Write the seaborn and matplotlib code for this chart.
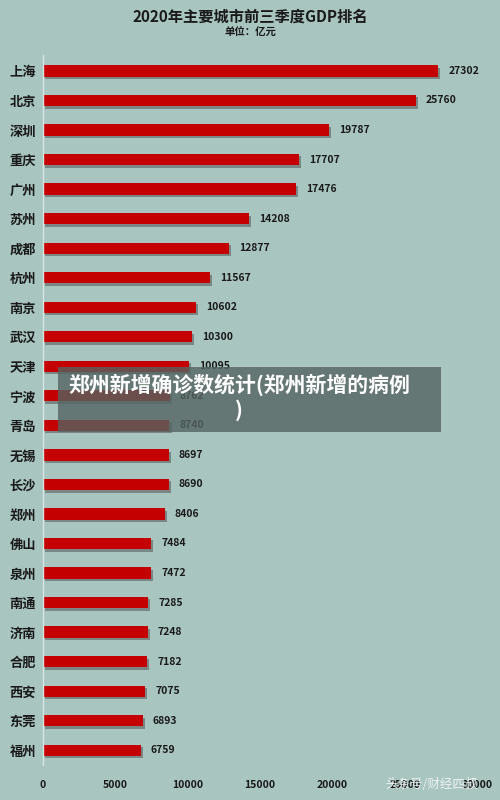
import matplotlib
matplotlib.use("Agg")
import matplotlib.pyplot as plt
import matplotlib.patheffects as pe
import seaborn as sns
import pandas as pd

# DATA
cities = [
    "上海", "北京", "深圳", "重庆", "广州", "苏州", "成都", "杭州",
    "南京", "武汉", "天津", "宁波", "青岛", "无锡", "长沙", "郑州",
    "佛山", "泉州", "南通", "济南", "合肥", "西安", "东莞", "福州",
]
gdp = [
    27302, 25760, 19787, 17707, 17476, 14208, 12877, 11567,
    10602, 10300, 10095, 8762, 8740, 8697, 8690, 8406,
    7484, 7472, 7285, 7248, 7182, 7075, 6893, 6759,
]
x_ticks = [0, 5000, 10000, 15000, 20000, 25000, 30000]

title = "2020年主要城市前三季度GDP排名"
subtitle = "单位：亿元"
banner = "郑州新增确诊数统计(郑州新增的病例\n)"
watermark = "头条号/财经四叔"

df = pd.DataFrame({"city": cities, "gdp": gdp})

# STYLE SETTINGS
sns.set_style("white")
plt.rcParams["font.family"] = ["Noto Sans CJK SC", "DejaVu Sans"]

bg = "#a8c5bf"
fig = plt.figure(figsize=(5, 8), dpi=100, facecolor=bg)
ax = fig.add_axes([0.086, 0.04375, 0.868, 0.8875])
ax.set_facecolor(bg)

sns.barplot(
    data=df,
    x="gdp",
    y="city",
    orient="h",
    color="#c40000",
    saturation=1,
    width=0.38,
    edgecolor="none",
    linewidth=0,
    ax=ax,
)

# drop shadow under each bar
for bar in ax.patches:
    bar.set_path_effects([
        pe.SimplePatchShadow(offset=(1.5, -1.8), shadow_rgbFace="#4a4a4a", alpha=0.5),
        pe.Normal(),
    ])

for i, v in enumerate(gdp):
    ax.text(v + 700, i, str(v), va="center", ha="left",
            fontsize=7.5, fontweight="bold", color="#1a1a1a")

ax.set_xlim(0, 30000)
ax.set_ylim(23.5, -0.54)
ax.set_xticks(x_ticks)
ax.set_xticklabels([str(t) for t in x_ticks], fontsize=7.5, fontweight="bold", color="#1a1a1a")
for lbl in ax.get_yticklabels():
    lbl.set_fontsize(9.5)
    lbl.set_fontweight("bold")
    lbl.set_color("#1a1a1a")
ax.tick_params(axis="x", length=0, pad=11)
ax.tick_params(axis="y", length=0, pad=5)
ax.set_xlabel("")
ax.set_ylabel("")

for side in ["top", "right", "bottom"]:
    ax.spines[side].set_visible(False)
ax.spines["left"].set_color("#d8e6e3")
ax.spines["left"].set_linewidth(1.0)

fig.text(0.5, 0.979, title, ha="center", va="center",
         fontsize=11, fontweight="bold", color="#1a1a1a")
fig.text(0.5, 0.959, subtitle, ha="center", va="center",
         fontsize=7.5, fontweight="bold", color="#1a1a1a")

# overlay banner
fig.patches.append(plt.Rectangle(
    (58 / 500, 1 - 432 / 800), (441 - 58) / 500, (432 - 367) / 800,
    transform=fig.transFigure, facecolor="#546461", alpha=0.8,
    edgecolor="none", zorder=5,
))
fig.text(0.478, 1 - 397 / 800, banner, ha="center", va="center",
         fontsize=15, fontweight="bold", color="white", zorder=6,
         linespacing=1.2)

fig.text(0.955, 1 - 785 / 800, watermark, ha="right", va="center",
         fontsize=9, color="white", alpha=0.8, zorder=6)

plt.savefig("out.png", dpi=100, facecolor=bg)
plt.close()
